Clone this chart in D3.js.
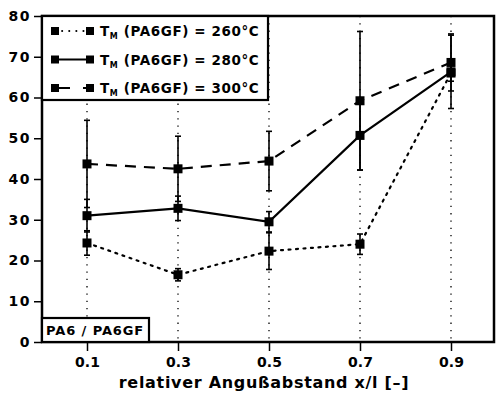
<!DOCTYPE html>
<html>
<head>
<meta charset="utf-8">
<script src="https://cdnjs.cloudflare.com/ajax/libs/d3/7.8.5/d3.min.js"></script>
<style>
  html, body { margin: 0; padding: 0; background: #fff; }
  svg { display: block; }
</style>
</head>
<body>
<div id="chart"></div>
<script>
// relative gate distance x/l
const positions = [0.1, 0.3, 0.5, 0.7, 0.9];
const yTicks = [0, 10, 20, 30, 40, 50, 60, 70, 80];

// melt temperature series (mean values)
const t260 = [24.3, 16.5, 22.3, 24.0, 66.0];
const t280 = [31.0, 32.8, 29.5, 50.7, 66.3];
const t300 = [43.7, 42.5, 44.4, 59.2, 68.6];

// half spread of the error bars
const t260Err = [3.0, 1.5, 4.5, 2.5, 2.0];
const t280Err = [4.0, 3.0, 2.5, 8.5, 9.0];
const t300Err = [10.7, 8.0, 7.3, 17.0, 7.0];

const legendTemps = ['260', '280', '300'];

const W = 496, H = 398;
const margin = { top: 16, right: 2, bottom: 56, left: 42 };
const FONT = '"DejaVu Sans", sans-serif';

const svg = d3.select('#chart').append('svg')
    .attr('width', W)
    .attr('height', H);

const x = d3.scaleLinear().domain([0, 1]).range([41.5, 496.5]);
const y = d3.scaleLinear().domain([0, 80]).range([H - margin.bottom, margin.top]);

const plotLeft = margin.left, plotRight = W - margin.right;
const plotTop = margin.top, plotBottom = H - margin.bottom;

// vertical dotted grid lines
svg.selectAll('.grid')
    .data(positions)
    .join('line')
    .attr('x1', d => x(d)).attr('x2', d => x(d))
    .attr('y1', plotTop).attr('y2', plotBottom)
    .attr('stroke', '#000')
    .attr('stroke-width', 1.3)
    .attr('stroke-dasharray', '1.3,6');

const series = [
    { name: '260', values: t260, err: t260Err, dash: '2,5.5' },
    { name: '280', values: t280, err: t280Err, dash: null },
    { name: '300', values: t300, err: t300Err, dash: '11,8' }
];

// error bars
series.forEach(s => {
    const g = svg.append('g');
    g.selectAll('line.bar')
        .data(positions)
        .join('line')
        .attr('x1', d => x(d)).attr('x2', d => x(d))
        .attr('y1', (d, i) => y(s.values[i] + s.err[i]))
        .attr('y2', (d, i) => y(s.values[i] - s.err[i]))
        .attr('stroke', '#000')
        .attr('stroke-width', 1.6);
    [1, -1].forEach(sign => {
        g.selectAll('line.cap' + sign)
            .data(positions)
            .join('line')
            .attr('x1', d => x(d) - 3).attr('x2', d => x(d) + 3)
            .attr('y1', (d, i) => y(s.values[i] + sign * s.err[i]))
            .attr('y2', (d, i) => y(s.values[i] + sign * s.err[i]))
            .attr('stroke', '#000')
            .attr('stroke-width', 1.6);
    });
});

const line = d3.line().x(d => x(d[0])).y(d => y(d[1]));

series.forEach(s => {
    const pts = positions.map((p, i) => [p, s.values[i]]);
    svg.append('path')
        .attr('d', line(pts))
        .attr('fill', 'none')
        .attr('stroke', '#000')
        .attr('stroke-width', 2.2)
        .attr('stroke-linecap', s.dash === '2,5.5' ? 'round' : 'butt')
        .attr('stroke-dasharray', s.dash);
    svg.selectAll(null)
        .data(pts)
        .join('rect')
        .attr('x', d => x(d[0]) - 4.5)
        .attr('y', d => y(d[1]) - 4.5)
        .attr('width', 9)
        .attr('height', 9)
        .attr('fill', '#000');
});

// frame
svg.append('rect')
    .attr('x', plotLeft).attr('y', plotTop)
    .attr('width', plotRight - plotLeft)
    .attr('height', plotBottom - plotTop)
    .attr('fill', 'none')
    .attr('stroke', '#000')
    .attr('stroke-width', 2.5);

// y axis
const yAxis = svg.append('g')
    .attr('transform', `translate(${plotLeft},0)`)
    .call(d3.axisLeft(y).tickValues(yTicks).tickSize(8).tickPadding(3));
yAxis.select('.domain').remove();
yAxis.selectAll('.tick line').attr('stroke-width', 1.5);
yAxis.selectAll('.tick text')
    .attr('font-family', FONT)
    .attr('font-weight', 'bold')
    .attr('font-size', 14)
    .attr('letter-spacing', 1.5)
    .attr('fill', '#000');

// x axis
const xAxis = svg.append('g')
    .attr('transform', `translate(0,${plotBottom})`)
    .call(d3.axisBottom(x).tickValues(positions).tickSize(9).tickPadding(6).tickFormat(d3.format('.1f')));
xAxis.select('.domain').remove();
xAxis.selectAll('.tick line').attr('stroke-width', 1.5);
xAxis.selectAll('.tick text')
    .attr('font-family', FONT)
    .attr('font-weight', 'bold')
    .attr('font-size', 14)
    .attr('fill', '#000');

svg.append('text')
    .attr('x', 264)
    .attr('y', 388)
    .attr('text-anchor', 'middle')
    .attr('font-family', FONT)
    .attr('font-size', 16)
    .attr('font-weight', 600)
    .attr('letter-spacing', 0.7)
    .attr('fill', '#000')
    .text('relativer Angußabstand x/l [–]');

// legend
const legend = svg.append('g');
legend.append('rect')
    .attr('x', plotLeft).attr('y', plotTop)
    .attr('width', 226).attr('height', 84)
    .attr('fill', '#fff')
    .attr('stroke', '#000')
    .attr('stroke-width', 2.2);

const legendRows = legend.selectAll('.row')
    .data(series)
    .join('g')
    .attr('transform', (d, i) => `translate(0,${31 + i * 28.5})`);

legendRows.append('line')
    .attr('x1', 55).attr('x2', 90)
    .attr('y1', 0).attr('y2', 0)
    .attr('stroke', '#000')
    .attr('stroke-width', 2)
    .attr('stroke-linecap', d => d.dash === '2,5.5' ? 'round' : 'butt')
    .attr('stroke-dasharray', d => d.dash === '2,5.5' ? '0.1,7' : (d.dash ? '0,4,11,9' : null));

legendRows.selectAll('rect')
    .data([55, 90])
    .join('rect')
    .attr('x', d => d - 4)
    .attr('y', -4)
    .attr('width', 8).attr('height', 8)
    .attr('fill', '#000');

const lt = legendRows.append('text')
    .attr('x', 100)
    .attr('y', 5)
    .attr('font-family', FONT)
    .attr('font-weight', 'bold')
    .attr('font-size', 13.5)
    .attr('letter-spacing', 0.6)
    .attr('fill', '#000');
lt.append('tspan').text('T');
lt.append('tspan').attr('font-size', 8).attr('dy', 3).text('M');
lt.append('tspan').attr('dy', -3).text((d, i) => ` (PA6GF) = ${legendTemps[i]}°C`);

// material box
svg.append('rect')
    .attr('x', plotLeft).attr('y', 318)
    .attr('width', 107).attr('height', plotBottom - 318)
    .attr('fill', '#fff')
    .attr('stroke', '#000')
    .attr('stroke-width', 2.2);
svg.append('text')
    .attr('x', 46).attr('y', 335)
    .attr('font-family', FONT)
    .attr('font-weight', 'bold')
    .attr('font-size', 13)
    .attr('letter-spacing', 0.9)
    .attr('fill', '#000')
    .text('PA6 / PA6GF');
</script>
</body>
</html>
